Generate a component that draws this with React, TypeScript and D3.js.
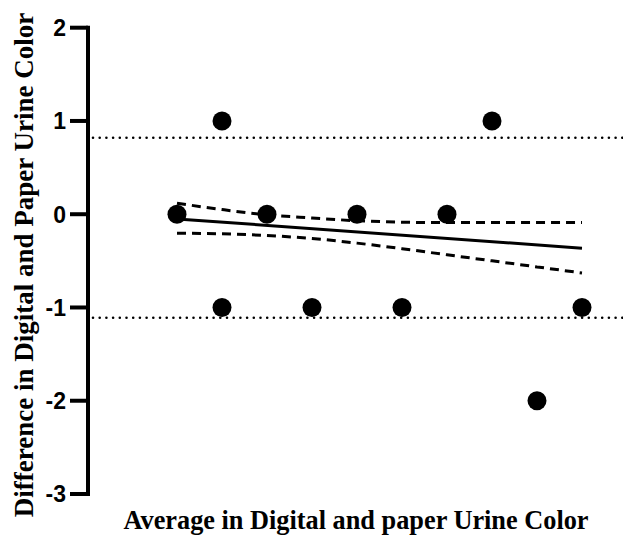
import React from 'react';
import * as d3 from 'd3';

// Bland-Altman style scatter: difference vs average of digital/paper urine colour

const avgValues = [1, 1.5, 1.5, 2, 2.5, 3, 3.5, 4, 4.5, 5, 5.5];
const diffValues = [0, 1, -1, 0, -1, 0, -1, 0, 1, -2, -1];

const yTicks = [-3, -2, -1, 0, 1, 2];

// limits of agreement (dotted)
const upperLimit = 0.82;
const lowerLimit = -1.11;

// fitted line and its confidence band
const fitX = [1, 5.5];
const fitY = [-0.05, -0.364];
const bandX = [1, 1.5, 2, 2.5, 3, 3.5, 4, 4.5, 5, 5.5];
const bandUpper = [0.118, 0.05, -0.007, -0.04, -0.07, -0.085, -0.09, -0.09, -0.09, -0.09];
const bandLower = [-0.203, -0.21, -0.228, -0.26, -0.31, -0.37, -0.435, -0.5, -0.565, -0.63];

const width = 623;
const height = 539;

export default function App() {
  const x = d3.scaleLinear().domain([0, 6]).range([87, 627]);
  const y = d3.scaleLinear().domain([-3, 2]).range([494, 27.7]);

  const line = d3.line<[number, number]>()
    .x(d => x(d[0]))
    .y(d => y(d[1]));
  const smooth = d3.line<[number, number]>()
    .x(d => x(d[0]))
    .y(d => y(d[1]))
    .curve(d3.curveMonotoneX);

  const fitPts = fitX.map((v, i) => [v, fitY[i]] as [number, number]);
  const upPts = bandX.map((v, i) => [v, bandUpper[i]] as [number, number]);
  const loPts = bandX.map((v, i) => [v, bandLower[i]] as [number, number]);

  const axisX = 88;
  const serif = '"Liberation Serif", "Times New Roman", serif';
  const sans = '"Liberation Sans", Arial, sans-serif';

  return (
    <svg width={width} height={height} style={{ position: 'absolute', left: 0, top: 0, background: '#fff' }}>
      {/* limits of agreement */}
      {[upperLimit, lowerLimit].map((v, i) => (
        <line key={'loa' + i} x1={93} x2={width} y1={y(v)} y2={y(v)}
          stroke="#000" strokeWidth={2.6} strokeLinecap="round" strokeDasharray="0,6.7" />
      ))}

      {/* confidence band */}
      <path d={smooth(upPts) || ''} fill="none" stroke="#000" strokeWidth={3} strokeDasharray="9,6" />
      <path d={smooth(loPts) || ''} fill="none" stroke="#000" strokeWidth={3} strokeDasharray="9,6" />
      {/* fit line */}
      <path d={line(fitPts) || ''} fill="none" stroke="#000" strokeWidth={3} />

      {/* points */}
      {avgValues.map((v, i) => (
        <circle key={'p' + i} cx={x(v)} cy={y(diffValues[i])} r={9.5} fill="#000" />
      ))}

      {/* y axis */}
      <line x1={axisX} x2={axisX} y1={y(2) - 2} y2={y(-3) + 2} stroke="#000" strokeWidth={4} />
      {yTicks.map(t => (
        <g key={'t' + t}>
          <line x1={70} x2={axisX} y1={y(t)} y2={y(t)} stroke="#000" strokeWidth={4} />
          <text x={66} y={y(t)} dy="0.36em" textAnchor="end"
            fontFamily={sans} fontWeight="bold" fontSize={23} fill="#000">{t}</text>
        </g>
      ))}

      {/* axis titles */}
      <text transform={`translate(33, 265) rotate(-90)`} textAnchor="middle"
        fontFamily={serif} fontWeight="bold" fontSize={27} fill="#000">
        Difference in Digital and Paper Urine Color
      </text>
      <text x={356} y={529} textAnchor="middle"
        fontFamily={serif} fontWeight="bold" fontSize={26.3} fill="#000">
        Average in Digital and paper Urine Color
      </text>
    </svg>
  );
}
